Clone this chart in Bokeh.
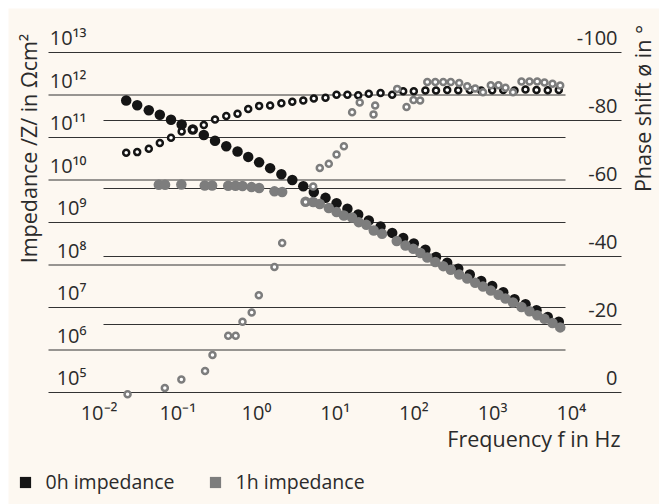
import math
from bokeh.plotting import figure
from bokeh.models import Range1d, LinearScale, Legend, LegendItem
from bokeh.core.properties import value
from bokeh.embed import file_html
from bokeh.resources import INLINE

# ---------------- data ----------------
freq_0h = [0.0221, 0.0305, 0.0428, 0.0591, 0.0820, 0.112, 0.155, 0.214, 0.297, 0.413,
           0.574, 0.785, 1.08, 1.49, 2.07, 2.85, 3.93, 5.35, 7.53, 10.4,
           14.3, 19.6, 26.7, 37.7, 53.0, 73.1, 99.7, 140, 191, 265,
           366, 513, 716, 988, 1365, 1898, 2618, 3614, 5026, 6935]
imp_0h = [7.4e11, 5.75e11, 4.36e11, 3.42e11, 2.62e11, 2.02e11, 1.54e11, 1.15e11, 8.4e10, 6.2e10,
          4.7e10, 3.5e10, 2.6e10, 1.9e10, 1.36e10, 1.0e10, 7.1e9, 5.2e9, 3.8e9, 2.85e9,
          2.1e9, 1.54e9, 1.11e9, 8.0e8, 5.7e8, 4.3e8, 3.2e8, 2.3e8, 1.54e8, 1.13e8,
          8.2e7, 6.0e7, 4.2e7, 3.2e7, 2.3e7, 1.56e7, 1.19e7, 8.6e6, 6.0e6, 4.6e6]
phase_0h = [-70.5, -70.7, -71.7, -73.4, -74.9, -76.8, -77.3, -78.7, -80.3, -81.3,
            -82.0, -83.4, -84.3, -84.4, -85.1, -85.5, -85.9, -86.5, -86.7, -87.6,
            -87.6, -87.4, -87.9, -88.1, -87.6, -88.6, -88.6, -88.8, -88.8, -89.0,
            -88.9, -89.0, -88.8, -88.9, -89.0, -88.8, -89.1, -89.0, -88.9, -89.0]

freq_1h_imp = [0.0574, 0.0689, 0.111, 0.220, 0.273, 0.437, 0.541, 0.664, 0.864, 1.08,
               1.69, 2.12, 4.20, 5.25, 6.37, 8.29, 10.4, 12.9, 16.4, 19.9,
               24.9, 30.9, 39.4, 60.5, 78.2, 98.2, 121, 148, 187, 236,
               294, 376, 476, 601, 755, 949, 1189, 1459, 1817, 2329,
               2943, 3689, 4564, 5768, 7228]
imp_1h = [7.7e9, 7.7e9, 7.8e9, 7.4e9, 7.4e9, 7.3e9, 7.3e9, 7.2e9, 6.8e9, 6.5e9,
          5.4e9, 5.2e9, 3.07e9, 3.03e9, 2.72e9, 2.19e9, 1.77e9, 1.46e9, 1.31e9, 1.02e9,
          8.8e8, 6.5e8, 5.4e8, 3.67e8, 2.88e8, 2.40e8, 1.91e8, 1.50e8, 1.18e8, 9.4e7,
          7.7e7, 6.0e7, 4.8e7, 3.8e7, 3.1e7, 2.5e7, 2.0e7, 1.63e7, 1.31e7, 1.03e7,
          8.2e6, 6.6e6, 5.4e6, 4.3e6, 3.4e6]

freq_1h_phase = [0.0230, 0.0684, 0.111, 0.222, 0.276, 0.437, 0.544, 0.664, 0.869, 1.07,
                 1.69, 2.12, 4.20, 5.25, 6.37, 8.29, 10.4, 12.9, 16.4, 20.5,
                 30.7, 32.2, 61.3, 80.6, 98.9, 120, 148, 187, 236, 294,
                 376, 476, 601, 755, 949, 1189, 1459, 1817, 2329, 2943,
                 3689, 4564, 5768, 7228]
phase_1h = [0.5, -1.3, -3.8, -6.3, -11.0, -16.7, -16.7, -20.8, -23.5, -28.6,
            -36.9, -44.0, -56.0, -60.6, -66.0, -67.3, -70.0, -72.4, -82.4, -85.3,
            -81.8, -84.4, -89.3, -84.0, -86.0, -85.9, -91.3, -91.3, -91.3, -91.3,
            -91.0, -90.1, -89.4, -88.3, -90.4, -90.4, -89.6, -88.3, -91.5, -91.5,
            -91.5, -91.2, -90.8, -90.3]

freq_ticks = [1e-2, 1e-1, 1e0, 1e1, 1e2, 1e3, 1e4]
freq_tick_labels = ["10⁻²", "10⁻¹", "10⁰", "10¹", "10²", "10³", "10⁴"]
imp_ticks = [1e5, 1e6, 1e7, 1e8, 1e9, 1e10, 1e11, 1e12, 1e13]
imp_tick_labels = ["10⁵", "10⁶", "10⁷", "10⁸", "10⁹", "10¹⁰", "10¹¹", "10¹²", "10¹³"]
phase_ticks = [0, -20, -40, -60, -80, -100]
phase_tick_labels = ["0", "-20", "-40", "-60", "-80", "-100"]

series_labels = ["0h impedance", "1h impedance"]

# ---------------- layout helpers (page pixel -> data) ----------------
def fx(px):
    return 10 ** ((px - 256.0) / 78.7)

def fz(py):
    return 10 ** (13 - (py - 52.0) / 42.5)

def fph(py):
    return -(392.0 - py) / 3.4

BG = "#fdf8f1"
BLACK = "#151515"
GRAY = "#7d7d7d"
TXT = "#2b2b2b"
GRID = "#333333"
FONT = "Open Sans"
FS_TICK = "20px"
FS_TITLE = "21.5px"
FS_LEG = "19.5px"
SHIFT = 8  # baseline correction for rendered text

W, H, M = 659, 504, 8
p = figure(width=W, height=H, output_backend="svg", toolbar_location=None,
           x_axis_type="log", y_axis_type="log",
           x_axis_location=None, y_axis_location=None,
           x_range=Range1d(fx(M), fx(W)), y_range=Range1d(fz(H), fz(M)),
           background_fill_color=BG, border_fill_color="white",
           min_border=0, min_border_left=M, min_border_right=0,
           min_border_top=M, min_border_bottom=0)
p.outline_line_color = None
p.grid.visible = False
p.extra_y_ranges = {"phase": Range1d(fph(H), fph(M))}
p.extra_y_scales = {"phase": LinearScale()}

# gridlines
p.segment(x0=[fx(48)] * len(imp_ticks), x1=[fx(565)] * len(imp_ticks),
          y0=imp_ticks, y1=imp_ticks, line_color=GRID, line_width=1)
p.segment(x0=[fx(103)] * len(phase_ticks), x1=[fx(621)] * len(phase_ticks),
          y0=phase_ticks, y1=phase_ticks, line_color=GRID, line_width=1,
          y_range_name="phase")

# data
p.scatter(freq_0h, imp_0h, size=10.5, fill_color=BLACK, line_color=None)
p.scatter(freq_1h_imp, imp_1h, size=10.5, fill_color=GRAY, line_color=None)
p.scatter(freq_0h, phase_0h, size=6, fill_color="white", line_color=BLACK,
          line_width=2.5, y_range_name="phase")
p.scatter(freq_1h_phase, phase_1h, size=6, fill_color="white", line_color=GRAY,
          line_width=2.5, y_range_name="phase")

# tick labels
p.text(x=[fx(86)] * len(imp_ticks), y=imp_ticks, text=imp_tick_labels,
       text_align="right", text_baseline="alphabetic", y_offset=-7 - SHIFT,
       text_font=value(FONT), text_font_size=FS_TICK, text_color=TXT)
p.text(x=[fx(617)] * len(phase_ticks), y=phase_ticks, text=phase_tick_labels,
       text_align="right", text_baseline="alphabetic", y_offset=-7 - SHIFT,
       text_font=value(FONT), text_font_size=FS_TICK, text_color=TXT,
       y_range_name="phase")
p.text(x=freq_ticks, y=[imp_ticks[0]] * len(freq_ticks), text=freq_tick_labels,
       text_align="center", text_baseline="alphabetic", y_offset=28 - SHIFT,
       text_font=value(FONT), text_font_size=FS_TICK, text_color=TXT)

# axis titles
p.text(x=[fx(620)], y=[imp_ticks[0]], text=["Frequency f in Hz"],
       text_align="right", text_baseline="alphabetic", y_offset=54 - SHIFT,
       text_font=value(FONT), text_font_size=FS_TITLE, text_color=TXT)
p.text(x=[fx(36 - SHIFT)], y=[fz(148)], text=["Impedance /Z/ in Ωcm²"], angle=math.pi / 2,
       text_align="center", text_baseline="alphabetic",
       text_font=value(FONT), text_font_size=FS_TITLE, text_color=TXT)
p.text(x=[fx(650 - SHIFT)], y=[fph(108)], text=["Phase shift ø in °"], angle=math.pi / 2,
       text_align="center", text_baseline="alphabetic", y_range_name="phase",
       text_font=value(FONT), text_font_size=FS_TITLE, text_color=TXT)

# legend (swatch renderers carry no data points)
nan = float("nan")
sq0 = p.quad(left=[nan], right=[nan], top=[nan], bottom=[nan], fill_color=BLACK, line_color=None)
sq1 = p.quad(left=[nan], right=[nan], top=[nan], bottom=[nan], fill_color=GRAY, line_color=None)
legend = Legend(items=[LegendItem(label=series_labels[0], renderers=[sq0]),
                       LegendItem(label=series_labels[1], renderers=[sq1])],
                orientation="horizontal", location=(9.5, 9),
                glyph_width=14, glyph_height=14, label_standoff=14, spacing=33,
                padding=0, margin=0, label_height=20,
                background_fill_alpha=0, border_line_color=None,
                label_text_font=FONT, label_text_font_size=FS_LEG, label_text_color=TXT)
p.add_layout(legend)

open("out.html", "w").write(file_html(p, INLINE))
